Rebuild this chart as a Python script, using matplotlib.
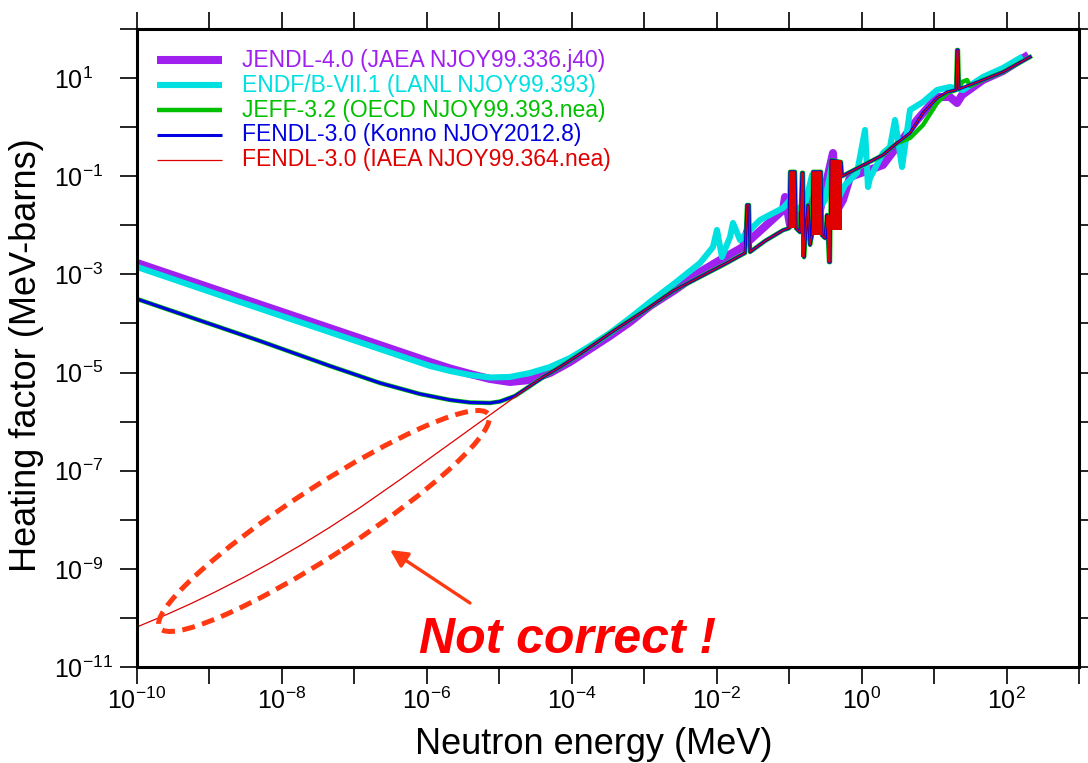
import numpy as np
import matplotlib
matplotlib.use('Agg')
import matplotlib.pyplot as plt
from matplotlib.patches import Ellipse
from matplotlib.ticker import FixedLocator, FixedFormatter, NullLocator

plt.rcParams['font.family'] = ['Liberation Sans', 'DejaVu Sans']
plt.rcParams['mathtext.fontset'] = 'custom'
plt.rcParams['mathtext.rm'] = 'Liberation Sans'
plt.rcParams['mathtext.it'] = 'Liberation Sans:italic'
plt.rcParams['mathtext.bf'] = 'Liberation Sans:bold'

# --- Data (log10 of energy in MeV, log10 of heating factor in MeV-barns) ---
# JENDL-4.0
jendl_log_e = [-10.0, -8.579, -7.337, -5.956, -5.680, -5.404, -5.128, -4.852, -4.576,
               -4.300, -4.024, -3.748, -3.472, -3.196, -2.920, -2.575, -2.230, -1.954,
               -1.637, -1.582, -1.540, -1.085, -1.057, -0.988, -0.850, -0.712,
               -0.574, -0.395, -0.353, -0.257, -0.160, 0.295, 0.765, 1.041, 1.220,
               1.317, 1.386, 1.675, 1.951, 2.255]
jendl_log_h = [-2.768, -3.477, -4.096, -4.785, -4.917, -5.029, -5.131, -5.192, -5.152,
               -5.009, -4.785, -4.520, -4.255, -3.970, -3.644, -3.318, -2.951, -2.707,
               -2.442, -2.136, -2.299, -1.688, -1.423, -1.994, -1.790, -1.484,
               -1.688, -0.527, -1.729, -1.484, -1.016, -0.771, 0.146, 0.614, 0.614,
               0.492, 0.655, 0.961, 1.144, 1.430]

# ENDF/B-VII.1
endf_log_e = [-10.0, -8.579, -7.199, -5.956, -5.680, -5.404, -5.128, -4.852, -4.576,
              -4.300, -4.024, -3.748, -3.472, -3.196, -2.920, -2.575, -2.230, -2.051,
              -1.996, -1.927, -1.816, -1.775, -1.678, -1.540, -1.402,
              -1.085, -0.988, -0.919, -0.781, -0.684, -0.643, -0.505, -0.408, -0.367,
              -0.229, -0.064, 0.047, 0.088, 0.116, 0.295, 0.392, 0.461, 0.558, 0.668,
              0.847, 1.041, 1.220, 1.399, 1.675, 1.951, 2.186]
endf_log_h = [-2.849, -3.562, -4.247, -4.866, -4.968, -5.050, -5.101, -5.090, -5.009,
              -4.887, -4.703, -4.459, -4.194, -3.888, -3.562, -3.175, -2.768, -2.442,
              -2.095, -2.646, -2.238, -1.953, -2.299, -2.095, -1.892,
              -1.647, -1.484, -1.688, -1.586, -0.975, -1.790, -1.484, -0.771, -1.586,
              -1.179, -0.934, -0.058, -1.219, -1.036, -0.527, -0.404, 0.146, -0.812,
              0.350, 0.513, 0.757, 0.818, 0.757, 1.022, 1.205, 1.409]

# FENDL-3.0 (Konno) and JEFF-3.2 below 1e-4 MeV
konno_low_log_e = [-10.0, -9.131, -8.303, -7.337, -6.646, -6.094, -5.680, -5.404,
                   -5.128, -4.990, -4.783, -4.576, -4.369]
konno_low_log_h = [-3.501, -3.939, -4.357, -4.866, -5.213, -5.437, -5.559, -5.610,
                   -5.620, -5.590, -5.478, -5.274, -5.070]

# FENDL-3.0 (IAEA) below 1e-4 MeV
iaea_low_log_e = [-10.0, -9.614, -9.269, -8.924, -8.523, -8.164, -7.750, -7.350,
                  -6.922, -6.370, -5.818, -5.349, -4.921, -4.452]
iaea_low_log_h = [-10.184, -9.946, -9.718, -9.473, -9.170, -8.880, -8.526, -8.163,
                  -7.751, -7.183, -6.596, -6.097, -5.643, -5.143]

# common curve for FENDL/JEFF from 1e-4 MeV to the resonance region
mid_log_e = [-4.162, -3.886, -3.403, -2.920, -2.603, -2.230, -1.885, -1.609,
             -1.582, -1.554, -1.540, -1.333]
mid_log_h = [-4.887, -4.622, -4.133, -3.664, -3.338, -3.053, -2.788, -2.564,
             -1.586, -1.586, -2.544, -2.319]

# resonance region
res_log_e = [-1.085, -1.002, -0.988, -0.919, -0.905, -0.850, -0.823, -0.809, -0.795,
             -0.767, -0.740, -0.712, -0.684, -0.671, -0.560, -0.547, -0.505, -0.478,
             -0.450, -0.436, -0.422, -0.284, -0.270]
res_log_h = [-2.10, -2.06, -0.91, -0.91, -2.06, -2.14, -0.93, -0.93, -2.65,
             -2.06, -1.59, -2.40, -2.20, -0.91, -0.91, -2.20, -2.26, -1.79,
             -2.75, -2.75, -0.67, -0.71, -1.00]
# solid resonance blocks (left, right, bottom, top)
block_log_e0 = [-1.002, -0.836, -0.684, -0.478, -0.422]
block_log_e1 = [-0.919, -0.795, -0.547, -0.436, -0.270]
block_log_h0 = [-2.055, -2.646, -2.197, -2.747, -2.095]
block_log_h1 = [-0.914, -0.934, -0.914, -1.790, -0.669]

# fast region
high_log_e = [-0.160, 0.295, 0.489, 0.668, 0.847, 1.041, 1.178, 1.303, 1.317, 1.330,
              1.344, 1.675, 1.951, 2.324]
high_log_h = [-0.914, -0.567, -0.323, -0.119, 0.289, 0.594, 0.716, 0.757, 1.572, 1.572,
              0.778, 0.961, 1.124, 1.430]
jeff_high_log_e = [-0.160, 0.295, 0.489, 0.668, 0.847, 1.041, 1.178, 1.303, 1.317, 1.330,
                   1.344, 1.386, 1.455, 1.496, 1.675, 1.951, 2.324]
jeff_high_log_h = [-0.914, -0.567, -0.323, -0.221, 0.044, 0.492, 0.696, 0.757, 1.572, 1.572,
                   0.778, 0.920, 0.961, 0.839, 0.961, 1.124, 1.430]

labels = ['JENDL-4.0 (JAEA NJOY99.336.j40)',
          'ENDF/B-VII.1 (LANL NJOY99.393)',
          'JEFF-3.2 (OECD NJOY99.393.nea)',
          'FENDL-3.0 (Konno NJOY2012.8)',
          'FENDL-3.0 (IAEA NJOY99.364.nea)']
colors = ['#A020F0', '#00E0E0', '#00C000', '#0000E0', '#E00000']
widths = [5.8, 4.4, 3.2, 2.2, 0.9]

curves = [
    (jendl_log_e, jendl_log_h),
    (endf_log_e, endf_log_h),
    (konno_low_log_e + mid_log_e + res_log_e + jeff_high_log_e,
     konno_low_log_h + mid_log_h + res_log_h + jeff_high_log_h),
    (konno_low_log_e + mid_log_e + res_log_e + high_log_e,
     konno_low_log_h + mid_log_h + res_log_h + high_log_h),
    (iaea_low_log_e + mid_log_e + res_log_e + high_log_e,
     iaea_low_log_h + mid_log_h + res_log_h + high_log_h),
]

# --- Plot ---
fig = plt.figure(figsize=(10.88, 7.63), dpi=100)
ax = fig.add_axes([137 / 1088, 1 - 667 / 763, 942 / 1088, 638 / 763])
ax.set_xscale('log')
ax.set_yscale('log')

for i, ((le, lh), c, lw) in enumerate(zip(curves, colors, widths)):
    ax.plot(10.0 ** np.array(le), 10.0 ** np.array(lh), color=c, lw=lw, zorder=2 + i)

# dense resonances drawn as solid blocks under the IAEA line
for e0, e1, h0, h1 in zip(block_log_e0, block_log_e1, block_log_h0, block_log_h1):
    ax.fill_between([10.0 ** e0, 10.0 ** e1], 10.0 ** h0, 10.0 ** h1,
                    color=colors[4], lw=0, zorder=5.5)

ax.set_xlim(1e-10, 1e3)
ax.set_ylim(1e-11, 1e2)

xexp = np.arange(-10, 4)
yexp = np.arange(-11, 3)
ax.xaxis.set_major_locator(FixedLocator(10.0 ** xexp))
ax.yaxis.set_major_locator(FixedLocator(10.0 ** yexp))
ax.xaxis.set_major_formatter(FixedFormatter(
    [r'$10^{%d}$' % e if e % 2 == 0 else '' for e in xexp]))
ax.yaxis.set_major_formatter(FixedFormatter(
    [r'$10^{%d}$' % e if e % 2 != 0 else '' for e in yexp]))
ax.xaxis.set_minor_locator(NullLocator())
ax.yaxis.set_minor_locator(NullLocator())
ax.tick_params(which='major', direction='out', length=12, width=1.2,
               top=True, right=True, labelsize=18)
ax.tick_params(axis='x', pad=3)
ax.tick_params(axis='y', pad=48)
for t in ax.get_yticklabels():
    t.set_horizontalalignment('left')
for s in ax.spines.values():
    s.set_linewidth(2.2)
    s.set_zorder(10)

# legend drawn by hand
rows = [0.951, 0.912, 0.873, 0.834, 0.795]
for y, lab, c, lw in zip(rows, labels, colors, widths):
    ax.plot([0.021, 0.090], [y, y], color=c, lw=lw, transform=ax.transAxes,
            solid_capstyle='butt')
    ax.text(0.1115, y, lab, color=c, fontsize=16.5, va='center', ha='left',
            transform=ax.transAxes)

fig.text(27 / 1088, 1 - 355 / 763, 'Heating factor (MeV-barns)', rotation=90,
         fontsize=26, ha='center', va='center')
fig.text(594 / 1088, 1 - 744 / 763, 'Neutron energy (MeV)', fontsize=26,
         ha='center', va='center')

# annotation
ell = Ellipse((3.24, 7.63 - 5.21), width=3.92, height=0.68, angle=33,
              transform=fig.dpi_scale_trans, fill=False, ec='#FF3A12', lw=3.6,
              ls=(0, (2.6, 1.5)), clip_on=False, zorder=9)
ax.add_patch(ell)
ax.annotate('', xy=(390, 763 - 550), xytext=(470, 763 - 603),
            xycoords='figure pixels', textcoords='figure pixels',
            arrowprops=dict(arrowstyle='-|>', color='#FF3A12', lw=2.4,
                            mutation_scale=26, shrinkA=0, shrinkB=0))
fig.text(419 / 1088, 1 - 653 / 763, 'Not correct !', fontsize=36,
         fontweight='bold', style='italic', color='#FF0000',
         ha='left', va='baseline')

fig.savefig('out.png', dpi=100)
